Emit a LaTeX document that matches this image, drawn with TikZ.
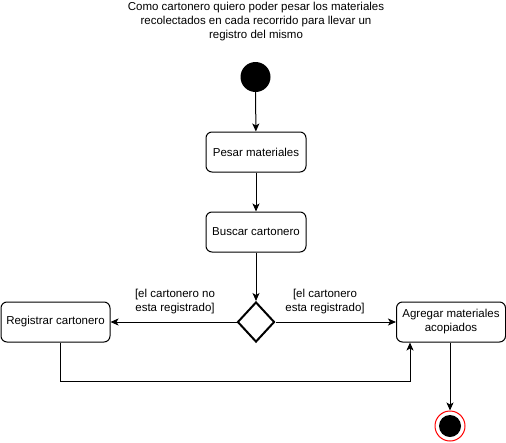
\documentclass[tikz,border=0pt]{standalone}
\usepackage{fontspec}
\setmainfont{Liberation Sans}
\usetikzlibrary{arrows.meta,shapes.geometric}
\begin{document}
\begin{tikzpicture}[x=1pt,y=-1pt,
  font=\fontsize{11.5}{14}\selectfont,
  act/.style={draw,rounded corners=6pt,line width=1pt,minimum width=100pt,minimum height=40pt,align=center,inner sep=2pt},
  flow/.style={draw,line width=1pt,-{Stealth[length=8pt,width=7pt,inset=2pt]}},
  lbl/.style={align=center,inner sep=0pt}]
\useasboundingbox (0,0) rectangle (506,442);
\node[lbl] (title) at (256,22) {Como cartonero quiero poder pesar los materiales\\recolectados en cada recorrido para llevar un\\registro del mismo};
\node[circle,fill=black,minimum size=30pt,inner sep=0pt] (start) at (255.5,77) {};
\node[act] (pesar) at (256,152) {Pesar materiales};
\node[act] (buscar) at (256,232) {Buscar cartonero};
\node[diamond,draw,line width=2pt,minimum width=37pt,minimum height=40pt,inner sep=0pt,aspect=0.92] (dec) at (256,322) {};
\node[act,minimum width=109pt] (reg) at (55.5,322) {Registrar cartonero};
\node[act,minimum width=109pt] (agr) at (451,322) {Agregar materiales\\acopiados};
\node[circle,draw=red,line width=1pt,minimum size=30pt,inner sep=0pt] (endo) at (450,426) {};
\node[circle,fill=black,minimum size=22pt,inner sep=0pt] (endi) at (450,426) {};
\node[lbl] (l1) at (175,302) {[el cartonero no\\esta registrado]};
\node[lbl] (l2) at (325,302) {[el cartonero\\esta registrado]};
\coordinate (c1) at (60,381);
\coordinate (c2) at (410,381);
\draw[flow] (start) -- (pesar);
\draw[flow] (pesar) -- (buscar);
\draw[flow] (buscar) -- (dec.north);
\draw[flow] (dec.west) -- (reg.east);
\draw[flow] (dec.east) -- (agr.west);
\draw[flow] (reg.south -| c1) -- (c1) -- (c2) -- (agr.south -| c2);
\draw[flow] (agr.south -| endo) -- (endo.north);
\end{tikzpicture}
\end{document}
